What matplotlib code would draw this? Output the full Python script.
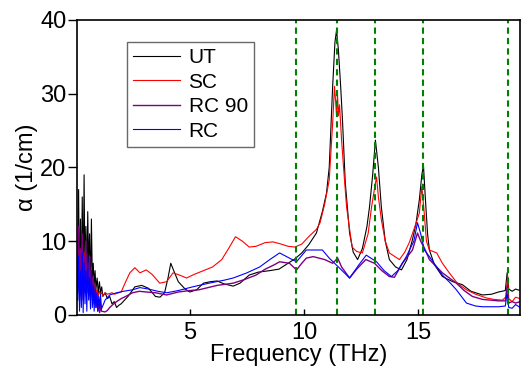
import matplotlib
matplotlib.use('Agg')
import matplotlib.pyplot as plt

plt.rcParams['font.family'] = ['Liberation Sans', 'DejaVu Sans']

# UT (black)
ut_freq = [0.10, 0.14, 0.18, 0.22, 0.26, 0.30, 0.34, 0.38, 0.42, 0.46, 0.50, 0.54, 0.58, 0.62,
           0.66, 0.70, 0.74, 0.78, 0.82, 0.86, 0.90, 0.95, 1.00, 1.05, 1.10, 1.15, 1.20, 1.30,
           1.40, 1.50, 1.60, 1.70, 1.80, 1.90, 2.00,
           2.3, 2.6, 2.9, 3.2, 3.5, 3.7, 3.9, 4.05, 4.17, 4.3, 4.5, 4.8, 5.0, 5.3, 5.6, 5.9,
           6.2, 6.5, 6.9, 7.2, 7.6, 8.0, 8.5, 8.9, 9.2, 9.6, 9.9, 10.2, 10.54, 10.8, 10.98,
           11.1, 11.25, 11.35, 11.42, 11.5, 11.6, 11.68, 11.8, 11.99, 12.15, 12.34, 12.55,
           12.75, 12.86, 13.0, 13.12, 13.25, 13.38, 13.55, 13.73, 14.0, 14.26, 14.5, 14.74,
           14.9, 15.04, 15.15, 15.22, 15.3, 15.4, 15.48, 15.7, 16.05, 16.5, 16.92, 17.3,
           17.8, 18.2, 18.5, 18.8, 18.88, 18.95, 19.1, 19.25, 19.45]
ut_alpha = [3, 17, 2, 13, 4, 16, 3, 19, 5, 12, 4, 14, 6, 11,
            3, 13, 5, 7, 4, 6, 3.5, 5, 3, 4.5, 3, 3.8, 2.5, 3,
            2.2, 2.5, 1.5, 1.8, 1.0, 1.3, 1.5,
            2.5, 3.8, 4.0, 3.6, 2.5, 2.4, 3.0, 5.0, 7.0, 6.0, 4.5, 3.5, 3.1, 3.4, 4.3, 4.5,
            4.6, 4.2, 3.9, 4.3, 5.4, 5.8, 6.0, 6.2, 6.8, 7.6, 8.4, 9.5, 11.1, 14.0, 16.5,
            20.0, 31.0, 37.0, 38.6, 36.0, 31.0, 26.4, 18.0, 11.1, 8.5, 7.5, 9.0,
            12.0, 14.6, 19.0, 23.7, 20.0, 14.6, 10.0, 7.5, 6.5, 6.1, 7.5, 10.2,
            12.5, 15.6, 19.0, 20.3, 16.0, 11.0, 8.8, 6.8, 5.2, 4.5, 4.1, 3.2,
            2.7, 2.8, 3.1, 3.3, 5.7, 3.5, 3.2, 3.5, 3.3]

# SC (red)
sc_freq = [0.10, 0.14, 0.18, 0.22, 0.26, 0.30, 0.34, 0.38, 0.42, 0.46, 0.50, 0.54, 0.58, 0.62,
           0.66, 0.70, 0.74, 0.78, 0.82, 0.86, 0.90, 0.95, 1.00, 1.05, 1.10, 1.15, 1.20, 1.30,
           1.40, 1.50, 1.60,
           1.7, 2.0, 2.2, 2.38, 2.6, 2.82, 3.1, 3.35, 3.69, 3.99, 4.27, 4.55, 4.86, 5.2, 5.6,
           6.0, 6.4, 6.7, 7.0, 7.3, 7.6, 7.9, 8.3, 8.64, 9.0, 9.3, 9.6, 9.9, 10.2, 10.54,
           10.7, 10.9, 11.1, 11.25, 11.33, 11.38, 11.42, 11.46, 11.5, 11.55, 11.64, 11.75,
           11.86, 12.1, 12.3, 12.55, 12.8, 12.95, 13.1, 13.17, 13.25, 13.38, 13.55, 13.73,
           14.17, 14.4, 14.6, 14.85, 15.04, 15.15, 15.25, 15.35, 15.48, 15.8, 16.05, 16.35,
           16.7, 17.1, 17.5, 17.97, 18.3, 18.67, 18.85, 18.9, 18.95, 19.1, 19.25, 19.45]
sc_alpha = [5, 9, 3, 8, 4, 7, 2.5, 8.5, 4, 6, 3, 7, 3.5, 6,
            4, 5, 3, 4.5, 3.5, 4, 3, 3.5, 2.5, 3.2, 2.8, 3, 2.6, 3,
            2.8, 2.9, 3.0,
            2.8, 3.1, 4.5, 5.7, 6.4, 5.7, 6.1, 5.5, 4.3, 4.5, 5.7, 5.4, 5.0, 5.5, 6.0,
            6.5, 7.5, 9.0, 10.6, 10.0, 9.2, 9.3, 9.8, 9.9, 9.6, 9.3, 9.2, 9.6, 10.6, 11.6,
            12.5, 15.0, 18.3, 26.0, 31.0, 29.0, 27.0, 30.0, 27.0, 28.5, 23.7, 19.0,
            14.6, 9.2, 8.6, 8.4, 11.0, 14.6, 17.5, 18.7, 16.0, 12.9, 10.0, 8.4,
            7.5, 8.5, 9.8, 12.0, 13.8, 17.4, 14.0, 10.0, 8.8, 8.4, 7.0, 5.7,
            4.3, 3.4, 2.8, 2.3, 2.1, 2.0, 2.5, 5.4, 2.2, 1.8, 2.4, 2.2]

# RC 90 (purple)
rc90_freq = [0.10, 0.14, 0.18, 0.22, 0.26, 0.30, 0.34, 0.38, 0.42, 0.46, 0.50, 0.54, 0.58,
             0.62, 0.66, 0.70, 0.74, 0.78, 0.82, 0.86, 0.90, 0.94, 0.98, 1.02, 1.06, 1.10, 1.14,
             1.3, 1.4, 1.5, 1.64, 1.8, 2.0, 2.2, 2.5, 2.8, 3.1, 3.5, 3.99, 4.5, 5.0, 5.4, 5.8,
             6.2, 6.9, 7.4, 7.9, 8.3, 8.7, 8.93, 9.36, 9.67, 9.9, 10.1, 10.4, 10.9, 11.25,
             11.47, 11.64, 11.99, 12.3, 12.7, 13.08, 13.4, 13.73, 13.95, 14.3, 14.74, 14.96,
             15.1, 15.3, 15.48, 16.05, 16.66, 17.0, 17.36, 17.8, 18.5, 18.8, 18.88, 18.95,
             19.1, 19.25, 19.45]
rc90_alpha = [4, 12, 3, 9, 5, 11, 2, 8, 4, 10, 3, 7, 5,
              8, 2, 6, 3, 5, 1.5, 4, 1, 3, 0.5, 2, 0.3, 1.5, 0.5,
              0.4, 0.6, 1.0, 1.4, 1.8, 2.2, 2.5, 3.0, 3.2, 3.1, 3.0, 2.7, 3.1, 3.3, 3.4, 3.7,
              4.0, 4.3, 4.8, 5.4, 6.2, 6.8, 7.2, 7.0, 6.1, 7.0, 7.7, 7.9, 7.5, 7.0,
              7.7, 6.5, 5.0, 6.2, 7.5, 7.0, 6.0, 5.2, 5.1, 7.0, 8.8, 11.1,
              10.0, 8.8, 7.5, 5.7, 4.3, 3.3, 2.5, 2.1, 1.9, 1.9, 4.0, 1.6,
              1.8, 1.6, 1.8]

# RC (blue)
rc_freq = [0.10, 0.14, 0.18, 0.22, 0.26, 0.30, 0.34, 0.38, 0.42, 0.46, 0.50, 0.54, 0.58,
           0.62, 0.66, 0.70, 0.74, 0.78, 0.82, 0.86, 0.90, 0.94, 0.98, 1.02, 1.06, 1.10, 1.14,
           1.3, 1.5, 1.8, 2.1, 2.5, 2.82, 3.2, 3.6, 4.0, 4.5, 5.0, 5.4, 6.0, 6.5, 6.9, 7.5,
           8.06, 8.5, 8.93, 9.36, 9.67, 10.1, 10.5, 10.8, 11.1, 11.5, 11.99, 12.4, 12.72,
           13.17, 13.5, 13.82, 14.1, 14.47, 14.8, 14.96, 15.1, 15.26, 15.48, 16.05, 16.4,
           16.66, 17.1, 17.5, 17.8, 18.5, 18.8, 18.88, 18.95, 19.1, 19.25, 19.45]
rc_alpha = [2, 8, 0.5, 6, 1, 8.5, 0.3, 7, 1.5, 6, 0.5, 8, 2,
            5, 0.8, 6, 1, 4, 0.5, 3.5, 1, 3, 0.5, 2.5, 1, 2.8, 0.8,
            2.0, 2.7, 3.0, 3.2, 3.4, 3.7, 3.5, 3.2, 3.0, 3.3, 3.7, 4.0, 4.4, 4.7, 5.0, 5.7,
            6.5, 7.5, 8.4, 7.7, 7.2, 8.8, 8.8, 8.8, 7.7, 6.5, 5.0, 6.8, 8.1,
            7.2, 6.0, 5.2, 6.0, 7.9, 10.0, 12.5, 11.0, 8.8, 7.9, 5.4, 4.3,
            3.4, 1.6, 1.2, 1.1, 1.1, 1.2, 3.0, 1.0, 0.9, 1.4, 1.0]

mode_lines = [9.65, 11.45, 13.1, 15.2, 18.9]

fig = plt.figure(figsize=(5.22, 3.70), dpi=100)
ax = fig.add_axes([0.1475, 0.149, 0.849, 0.797])

ax.plot(ut_freq, ut_alpha, color='black', lw=0.8, label='UT')
ax.plot(sc_freq, sc_alpha, color='red', lw=0.8, label='SC')
ax.plot(rc90_freq, rc90_alpha, color='#800080', lw=1.0, label='RC 90')
ax.plot(rc_freq, rc_alpha, color='blue', lw=0.8, label='RC')

for f in mode_lines:
    ax.axvline(f, color='#008000', lw=1.5, linestyle=(0, (3, 2)))

ax.set_xlim(0.07, 19.45)
ax.set_ylim(0, 40)
ax.set_xticks([5, 10, 15])
ax.set_yticks([0, 10, 20, 30, 40])
ax.tick_params(axis='x', direction='in', length=4, width=1, labelsize=17, pad=5)
ax.tick_params(axis='y', direction='out', length=6.5, width=1, labelsize=17, pad=1)
for s in ax.spines.values():
    s.set_linewidth(1.2)

ax.set_xlabel('Frequency (THz)', fontsize=17, labelpad=0)
ax.set_ylabel('α (1/cm)', fontsize=17, labelpad=2)

leg = ax.legend(loc='upper left', bbox_to_anchor=(0.113, 0.925), fontsize=15,
                frameon=True, fancybox=False, edgecolor='#444444',
                handlelength=2.25, handletextpad=0.4, labelspacing=0.26,
                borderpad=0.3, borderaxespad=0)
leg.get_frame().set_linewidth(1.0)

fig.savefig('out.png', dpi=100)
